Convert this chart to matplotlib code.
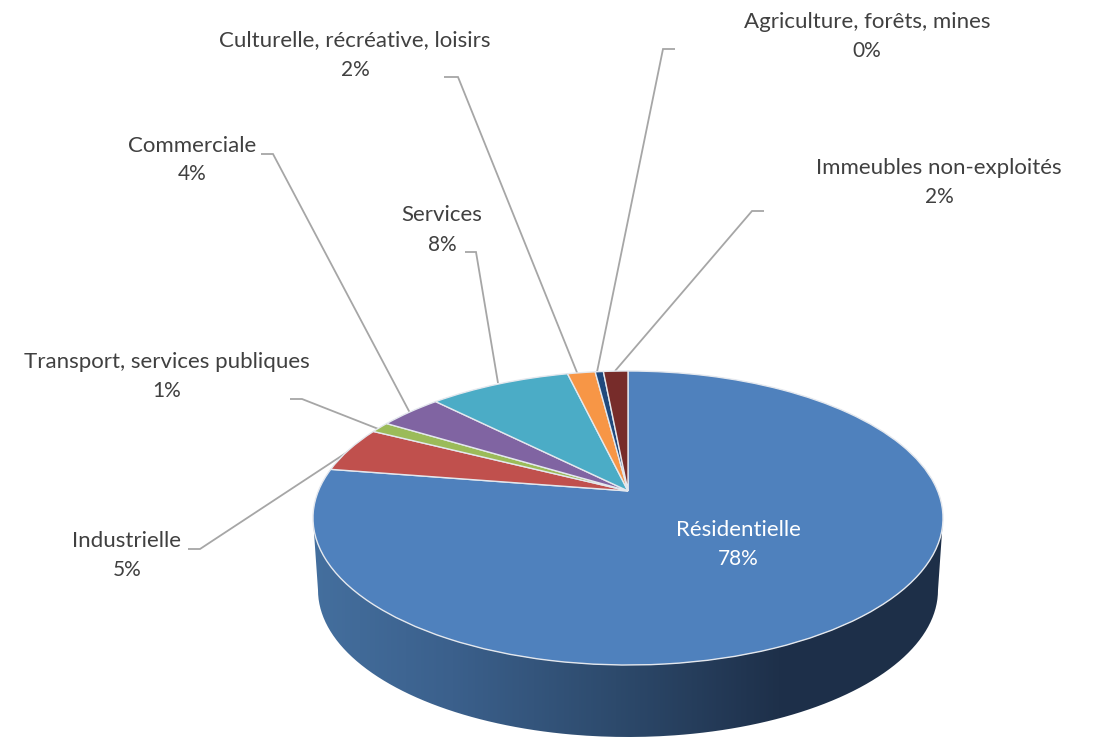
import numpy as np
import matplotlib
matplotlib.use("Agg")
import matplotlib.pyplot as plt
from matplotlib.colors import LinearSegmentedColormap
from matplotlib.patches import PathPatch
from matplotlib.path import Path
from matplotlib.transforms import Transform

plt.rcParams['font.family'] = ['Lato', 'DejaVu Sans']

categories = ["Résidentielle", "Industrielle", "Transport, services publiques", "Commerciale",
              "Services", "Culturelle, récréative, loisirs", "Agriculture, forêts, mines",
              "Immeubles non-exploités"]
# shares as read from the slice boundaries (the 3-D projection has been taken into account)
shares = [77.5, 5.0, 1.2, 3.9, 8.7, 1.7, 0.5, 1.5]
pct_labels = ["78%", "5%", "1%", "4%", "8%", "2%", "0%", "2%"]
colors = ["#4F81BD", "#C0504D", "#9BBB59", "#8064A2", "#4BACC6", "#F79646", "#1F497D", "#772C2A"]

label_x = [738, 127, 167, 192, 442, 355, 867, 939]
label_y1 = [530, 541, 362, 146, 215, 40, 22, 168]
label_y2 = [559, 570, 391, 174, 245, 70, 51, 197]

leaders = {
    "Industrielle": [(188, 549), (200, 549), (352, 449)],
    "Transport": [(290, 399), (302, 399), (381, 430)],
    "Commerciale": [(261, 154), (273, 154), (410, 413)],
    "Services": [(465, 252), (476, 252), (498, 383)],
    "Culturelle": [(444, 77), (458, 77), (578, 375)],
    "Agriculture": [(675, 49), (663, 49), (597, 372)],
    "Immeubles": [(764, 211), (752, 211), (615, 371)],
}

CX, CY, RX, RY, TILT = 628.0, 518.0, 315.0, 147.0, 0.184
BOTTOM_CY, BOTTOM_RX, BOTTOM_RY = 590.0, 310.0, 147.0


class PiePerspective(Transform):
    """Maps the unit pie disc on to the tilted ellipse, apex moved backwards."""
    input_dims = output_dims = 2
    is_separable = False
    has_inverse = False

    def transform_non_affine(self, values):
        v = np.asarray(values, dtype=float)
        d = 1 + TILT * v[:, 1]
        u2 = v[:, 0] * np.sqrt(1 - TILT ** 2) / d
        v2 = (v[:, 1] + TILT) / d
        return np.column_stack([CX + RX * u2, CY - RY * v2])


fig = plt.figure(figsize=(10.94, 7.38), dpi=100, facecolor="white")
ax = fig.add_axes([0, 0, 1, 1])

wedges, _ = ax.pie(shares, colors=colors, startangle=90, counterclock=False,
                   wedgeprops=dict(edgecolor="#E4E8EE", linewidth=1.0, zorder=3))
persp = PiePerspective() + ax.transData
for w in wedges:
    w.set_transform(persp)
    w.set_clip_on(False)

ax.set_aspect("auto")
ax.set_xlim(0, 1094)
ax.set_ylim(738, 0)
ax.axis("off")

# Side wall
t = np.linspace(0, np.pi, 200)
top_arc = np.column_stack([CX - RX * np.cos(t), CY + RY * np.sin(t)])
bottom_arc = np.column_stack([CX + BOTTOM_RX * np.cos(t), BOTTOM_CY + BOTTOM_RY * np.sin(t)])
side = Path(np.vstack([top_arc, bottom_arc, top_arc[:1]]))
cmap = LinearSegmentedColormap.from_list(
    "side",
    [(0.0, "#446F9E"), (0.22, "#3B608C"), (0.48, "#2D4A6C"), (0.74, "#1E304A"), (1.0, "#1D2F48")])
grad = np.linspace(0, 1, 512).reshape(1, -1)
img = ax.imshow(grad, cmap=cmap, aspect="auto", extent=(313, 943, 737, 518), zorder=1)
img.set_clip_path(PathPatch(side, transform=ax.transData))
ax.set_xlim(0, 1094)
ax.set_ylim(738, 0)

for pts in leaders.values():
    xs, ys = zip(*pts)
    ax.plot(xs, ys, color="#A6A6A6", lw=1.3, zorder=2, solid_capstyle="butt", solid_joinstyle="miter")

for i, name in enumerate(categories):
    col = "white" if i == 0 else "#404040"
    ax.text(label_x[i], label_y1[i], name, ha="center", va="center", fontsize=16, color=col, zorder=5)
    ax.text(label_x[i], label_y2[i], pct_labels[i], ha="center", va="center", fontsize=15, color=col, zorder=5)

fig.savefig("out.png", dpi=100, facecolor="white")
